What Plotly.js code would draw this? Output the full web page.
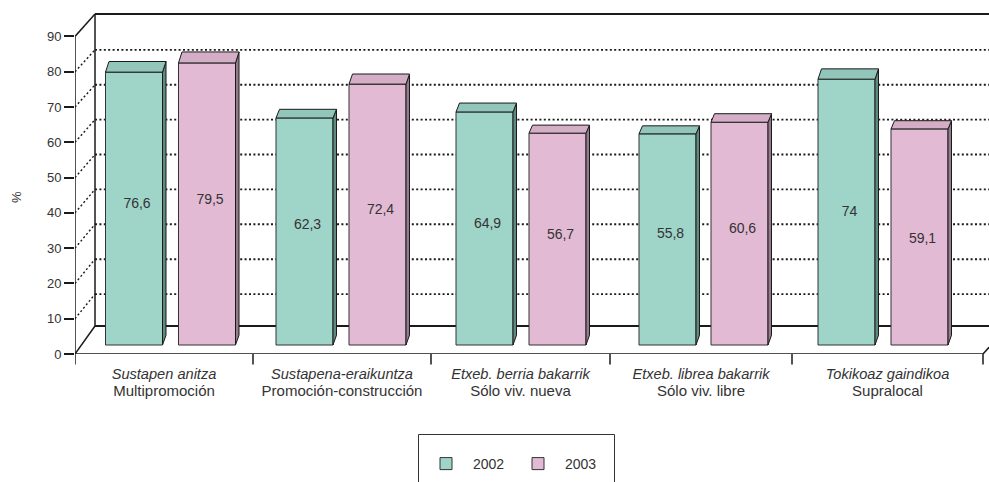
<!DOCTYPE html>
<html>
<head>
<meta charset="utf-8">
<script src="https://cdn.plot.ly/plotly-3.0.1.min.js"></script>
<style>html,body{margin:0;padding:0;background:#fff;overflow:hidden}</style>
</head>
<body>
<div id="chart" style="width:989px;height:482px"></div>
<script>
// --- data ---
const categoriesBasque = ['Sustapen anitza', 'Sustapena-eraikuntza', 'Etxeb. berria bakarrik', 'Etxeb. librea bakarrik', 'Tokikoaz gaindikoa'];
const categoriesSpanish = ['Multipromoción', 'Promoción-construcción', 'Sólo viv. nueva', 'Sólo viv. libre', 'Supralocal'];
const labels2002 = ['76,6', '62,3', '64,9', '55,8', '74'];
const labels2003 = ['79,5', '72,4', '56,7', '60,6', '59,1'];
// height of each drawn column as read against the value axis (the picture's 3-D columns overshoot their labels)
const drawnTop2002 = [79.9, 66.9, 68.6, 62.4, 77.9];
const drawnTop2003 = [82.5, 76.5, 62.6, 65.7, 63.8];
const yTicks = [0, 10, 20, 30, 40, 50, 60, 70, 80, 90];

// --- axis geometry (horizontal axis is in layout units) ---
const groupEdges = [75, 253, 431, 610, 792, 983];
const left2002 = [105.5, 276, 456, 639, 818];
const left2003 = [178.5, 349, 529, 711, 891];
const labelShift2002 = [0, 0.5, 0, 0.2, -1.3];
const labelShift2003 = [0, 0, 0, 0, -1.8];
const barW = 57, baseV = 2.55, dx = 3.5, baseDepth = 2.8;
const topDepth = t => 0.042 * t - 0.35;   // the drawn depth of a column grows with its height
const wallDx = 20;
const backV = v => 7.09 + 0.989 * v;
const floorV = 7.94, topV = 96.4, xMax = 989;
const teal = '#9fd4c9', tealTop = '#93c6bb', tealSide = '#5f8a80';
const pink = '#e2bad4', pinkTop = '#d4aec6', pinkSide = '#957a8c';
const ink = '#1a1a1a', barEdge = '#333333', textCol = '#333333';
const FONT = '"Liberation Sans", Arial, sans-serif';
const plotH = 343, plotW = 914;

function facePaths(lefts, tops) {
  const topX = [], topY = [], sideX = [], sideY = [];
  lefts.forEach((l, i) => {
    const r = l + barW, t = tops[i], d = topDepth(t);
    topX.push(l, r, r + dx, l + dx, l, null);
    topY.push(t, t, t + d, t + d, t, null);
    sideX.push(r, r + dx, r + dx, r, r, null);
    sideY.push(baseV, baseV + baseDepth, t + d, t, baseV, null);
  });
  return {topX, topY, sideX, sideY};
}
function barTrace(name, lefts, tops, color) {
  return {
    type: 'bar', name, x: lefts.map(l => l + barW / 2), y: tops.map(t => t - baseV),
    base: baseV, width: barW, marker: {color, line: {color: barEdge, width: 1}}, hoverinfo: 'skip'
  };
}
function faceTrace(x, y, fill) {
  return {type: 'scatter', mode: 'lines', x, y, fill: 'toself', fillcolor: fill,
          line: {color: ink, width: 1}, showlegend: false, hoverinfo: 'skip'};
}
function labelTrace(lefts, tops, labels, shift) {
  return {type: 'scatter', mode: 'text', x: lefts.map(l => l + barW / 2 + 3),
          y: tops.map((t, i) => (t + baseV) / 2 + 1.1 + shift[i]), text: labels, textposition: 'middle center',
          textfont: {family: FONT, size: 14, color: textCol}, showlegend: false, hoverinfo: 'skip'};
}
const f02 = facePaths(left2002, drawnTop2002), f03 = facePaths(left2003, drawnTop2003);
const traces = [
  barTrace('2002', left2002, drawnTop2002, teal),
  barTrace('2003', left2003, drawnTop2003, pink),
  faceTrace(f02.sideX, f02.sideY, tealSide), faceTrace(f02.topX, f02.topY, tealTop),
  faceTrace(f03.sideX, f03.sideY, pinkSide), faceTrace(f03.topX, f03.topY, pinkTop),
  labelTrace(left2002, drawnTop2002, labels2002, labelShift2002),
  labelTrace(left2003, drawnTop2003, labels2003, labelShift2003)
];

const x0 = groupEdges[0], xEnd = groupEdges[groupEdges.length - 1], xBack = x0 + wallDx;
const seg = (xa, ya, xb, yb, width, dash) => ({type: 'line', xref: 'x', yref: 'y', layer: 'below',
  x0: xa, y0: ya, x1: xb, y1: yb, line: {color: ink, width, dash: dash || 'solid'}});
const dotted = '2px,2.4px';
const shapes = [
  seg(xBack, topV, xMax, topV, 2),
  seg(xBack, floorV, xMax, floorV, 2),
  seg(xBack, floorV, xBack, topV, 1.5),
  seg(x0, 0, x0, 90, 1.5),
  seg(x0, 0, xEnd, 0, 1.5),
  seg(x0, 0, xBack, floorV, 1.5),
  seg(x0, 90, xBack, topV, 1.5),
  seg(xEnd, 0, xMax, 1.9, 1.5)
];
yTicks.filter(v => v > 0 && v < 90).forEach(v => {
  shapes.push(seg(x0, v, xBack, backV(v), 1.4, dotted));
  shapes.push(seg(xBack, backV(v), xMax, backV(v), 1.9, dotted));
});
groupEdges.forEach(e => shapes.push({type: 'line', xref: 'x', yref: 'paper', layer: 'below', x0: e, x1: e,
  y0: 0, y1: -10.5 / plotH, line: {color: ink, width: 1.5}}));
// legend frame, running off the bottom of the page as in the picture
shapes.push({type: 'rect', xref: 'paper', yref: 'paper', x0: (418.5 - 75) / plotW, x1: (614.5 - 75) / plotW,
  y0: -150 / plotH, y1: -80.5 / plotH, line: {color: '#333', width: 1}});

const midpoints = groupEdges.slice(0, -1).map((e, i) => (e + groupEdges[i + 1]) / 2);
const layout = {
  width: 989, height: 482, autosize: false,
  margin: {l: 75, r: 0, t: 11, b: 128, pad: 0},
  paper_bgcolor: '#fff', plot_bgcolor: 'rgba(0,0,0,0)',
  font: {family: FONT, size: 13, color: textCol},
  showlegend: true,
  legend: {orientation: 'h', x: (419 - 75) / plotW, xanchor: 'left', y: -(448 - 354) / plotH, yanchor: 'top',
           itemwidth: 44, entrywidth: 33, entrywidthmode: 'pixels',
           bgcolor: 'rgba(0,0,0,0)', font: {family: FONT, size: 14, color: textCol}, itemclick: false},
  barmode: 'overlay',
  xaxis: {type: 'linear', range: [x0, xMax], tickvals: midpoints,
          ticktext: categoriesBasque.map((c, i) =>
            '<span style="font-size:14.6px"><i>' + c + '</i></span><br><span style="font-size:15px">' + categoriesSpanish[i] + '</span>'),
          ticks: '', showgrid: false, zeroline: false, showline: false,
          tickfont: {family: FONT, size: 13, color: textCol}, ticklabelstandoff: 11},
  yaxis: {range: [0, plotH / 3.528], tickvals: yTicks, ticktext: yTicks.map(String), ticks: 'outside',
          ticklen: 10, tickwidth: 1.5, tickcolor: ink, showgrid: false, zeroline: false, showline: false,
          tickfont: {family: FONT, size: 13, color: textCol}},
  annotations: [{text: '%', xref: 'paper', yref: 'paper', x: (16 - 75) / plotW, y: (354 - 197) / plotH,
                 showarrow: false, textangle: -90, xanchor: 'center', yanchor: 'middle',
                 font: {family: FONT, size: 13, color: textCol}}],
  shapes
};
Plotly.newPlot('chart', traces, layout, {displayModeBar: false, responsive: false});
</script>
</body>
</html>
